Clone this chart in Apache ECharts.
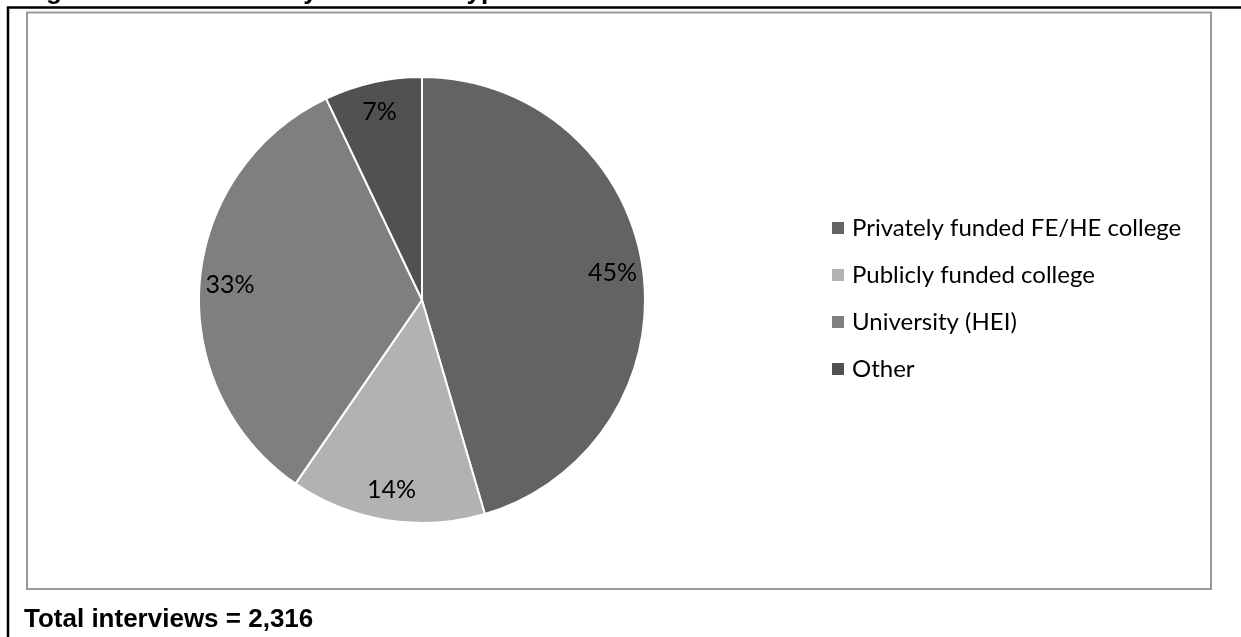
<!DOCTYPE html>
<html>
<head>
<meta charset="utf-8">
<script src="https://cdn.jsdelivr.net/npm/echarts@6/dist/echarts.min.js"></script>
<style>
html,body{margin:0;padding:0;background:#fff;}
#chart{width:1241px;height:637px;}
</style>
</head>
<body>
<div id="chart"></div>
<script>
const categories = ['Privately funded FE/HE college', 'Publicly funded college', 'University (HEI)', 'Other'];
const values = [45, 14, 33, 7];
const sliceColors = ['#636363', '#b2b2b2', '#7f7f7f', '#515151'];
const titleText = 'Figure 4 \u2013 Interviews by institution type';
const footText = 'Total interviews = 2,316';

const pieData = categories.map((c, i) => ({ name: c, value: values[i], itemStyle: { color: sliceColors[i] } }));
const labelData = categories.map((c, i) => ({ name: c, value: values[i] }));

const chart = echarts.init(document.getElementById('chart'), null, { renderer: 'canvas' });
chart.setOption({
  backgroundColor: '#ffffff',
  animation: false,
  legend: {
    orient: 'vertical',
    left: 827,
    top: 211,
    padding: 5,
    itemWidth: 12,
    itemHeight: 12,
    itemGap: 23,
    icon: 'rect',
    itemStyle: { borderWidth: 0 },
    data: categories,
    selectedMode: false,
    textStyle: { fontFamily: 'Lato', fontSize: 24, lineHeight: 24, color: '#000', padding: [0, 0, 0, 3] }
  },
  graphic: [
    { type: 'polyline', silent: true, shape: { points: [[8, 637], [8, 7.5], [1241, 7.5]] }, style: { stroke: '#000', lineWidth: 2.5, fill: null } },
    { type: 'rect', silent: true, shape: { x: 27, y: 12.5, width: 1184, height: 576.5 }, style: { stroke: '#999', lineWidth: 2, fill: null } },
    { type: 'text', silent: true, left: 23, top: -21, style: { text: titleText, font: 'bold 26px "Liberation Sans", Arial, sans-serif', fill: '#000' } },
    { type: 'text', silent: true, left: 24, top: 607, style: { text: footText, font: 'bold 26px "Liberation Sans", Arial, sans-serif', fill: '#000' } }
  ],
  series: [
    {
      type: 'pie',
      center: [422, 300],
      radius: [0, 223],
      startAngle: 90,
      clockwise: true,
      silent: true,
      label: { show: false },
      labelLine: { show: false },
      itemStyle: { borderColor: '#ffffff', borderWidth: 2 },
      emphasis: { disabled: true },
      data: pieData
    },
    {
      type: 'pie',
      center: [422, 300],
      radius: [156, 223],
      startAngle: 90,
      clockwise: true,
      silent: true,
      legendHoverLink: false,
      itemStyle: { color: 'rgba(0,0,0,0)', borderWidth: 0 },
      label: {
        show: true,
        position: 'inside',
        formatter: '{c}%',
        fontFamily: 'Lato',
        fontSize: 25,
        color: '#000'
      },
      labelLine: { show: false },
      emphasis: { disabled: true },
      data: labelData
    }
  ]
});
</script>
</body>
</html>
